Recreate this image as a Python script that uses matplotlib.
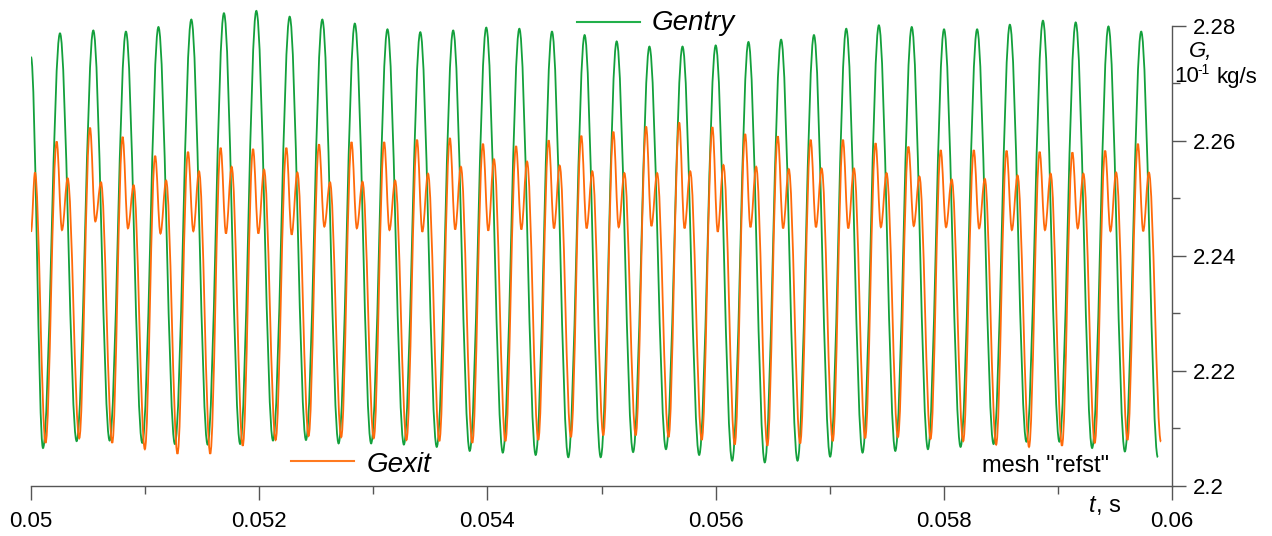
import matplotlib
matplotlib.use("Agg")
import matplotlib.pyplot as plt
from matplotlib.path import Path
from matplotlib.patches import PathPatch
from matplotlib.lines import Line2D

plt.rcParams['font.family'] = ['Liberation Sans', 'DejaVu Sans']

# ---- data ----
# Gentry: start point, then alternating troughs / peaks
gentry_start = (0.050000, 2.2746)
gentry_peak_t = [0.050254, 0.050546, 0.050832, 0.051117, 0.051405, 0.051691, 0.051975,
                 0.052267, 0.052553, 0.052838, 0.053124, 0.053412, 0.053700, 0.053990,
                 0.054280, 0.054566, 0.054852, 0.055133, 0.055420, 0.055710, 0.056001,
                 0.056288, 0.056574, 0.056862, 0.057145, 0.057431, 0.057719, 0.058002,
                 0.058292, 0.058579, 0.058869, 0.059156, 0.059443, 0.059730]
gentry_peak_v = [2.2787, 2.2792, 2.2790, 2.2798, 2.2811, 2.2822, 2.2826, 2.2816, 2.2811,
                 2.2804, 2.2794, 2.2789, 2.2792, 2.2797, 2.2795, 2.2790, 2.2784, 2.2773,
                 2.2764, 2.2764, 2.2766, 2.2772, 2.2776, 2.2784, 2.2795, 2.2801, 2.2798,
                 2.2794, 2.2794, 2.2802, 2.2809, 2.2806, 2.2799, 2.2790]
gentry_trough_t = [0.050105, 0.050400, 0.050689, 0.050975, 0.051261, 0.051548, 0.051833,
                   0.052121, 0.052410, 0.052696, 0.052981, 0.053268, 0.053556, 0.053845,
                   0.054135, 0.054423, 0.054709, 0.054993, 0.055277, 0.055565, 0.055856,
                   0.056145, 0.056431, 0.056718, 0.057004, 0.057288, 0.057575, 0.057861,
                   0.058147, 0.058436, 0.058724, 0.059013, 0.059300, 0.059587, 0.059876]
gentry_trough_v = [2.2066, 2.2078, 2.2079, 2.2075, 2.2073, 2.2072, 2.2073, 2.2079, 2.2080,
                   2.2074, 2.2074, 2.2072, 2.2068, 2.2061, 2.2058, 2.2054, 2.2050, 2.2050,
                   2.2059, 2.2064, 2.2054, 2.2044, 2.2041, 2.2044, 2.2051, 2.2058, 2.2061,
                   2.2064, 2.2068, 2.2073, 2.2077, 2.2077, 2.2066, 2.2060, 2.2050]

# Gexit: per cycle trough -> main peak -> dip -> second bump (times as lag vs Gentry)
gexit_start = [(0.050000, 2.2442), (0.050035, 2.2545)]
gexit_end = (0.059903, 2.2077)
lag_trough = 0.0000228
lag_main = -0.0000289
lag_dip = 0.0000175
lag_bump = 0.0000675
gexit_trough_v = [2.2075, 2.2083, 2.2075, 2.2064, 2.2056, 2.2056, 2.2070, 2.2080, 2.2087,
                  2.2085, 2.2083, 2.2080, 2.2078, 2.2075, 2.2078, 2.2080, 2.2085, 2.2088,
                  2.2088, 2.2085, 2.2080, 2.2072, 2.2070, 2.2074, 2.2078, 2.2083, 2.2085,
                  2.2082, 2.2078, 2.2072, 2.2068, 2.2070, 2.2075, 2.2080]
gexit_main_v = [2.2599, 2.2623, 2.2607, 2.2574, 2.2581, 2.2588, 2.2586, 2.2588, 2.2594,
                2.2598, 2.2598, 2.2602, 2.2605, 2.2595, 2.2591, 2.2601, 2.2609, 2.2616,
                2.2625, 2.2632, 2.2624, 2.2612, 2.2608, 2.2602, 2.2602, 2.2596, 2.2590,
                2.2584, 2.2584, 2.2583, 2.2581, 2.2580, 2.2583, 2.2595]
gexit_dip_v = [2.2445, 2.2460, 2.2448, 2.2439, 2.2443, 2.2439, 2.2439, 2.2437, 2.2451,
               2.2448, 2.2445, 2.2442, 2.2446, 2.2444, 2.2446, 2.2448, 2.2448, 2.2450,
               2.2452, 2.2448, 2.2442, 2.2450, 2.2448, 2.2450, 2.2448, 2.2450, 2.2452,
               2.2450, 2.2448, 2.2445, 2.2445, 2.2448, 2.2443, 2.2443]
gexit_bump_v = [2.2535, 2.2528, 2.2523, 2.2531, 2.2547, 2.2555, 2.2550, 2.2545, 2.2528,
                2.2529, 2.2531, 2.2543, 2.2555, 2.2568, 2.2564, 2.2557, 2.2547, 2.2544,
                2.2544, 2.2547, 2.2558, 2.2555, 2.2551, 2.2552, 2.2552, 2.2544, 2.2538,
                2.2533, 2.2534, 2.2540, 2.2543, 2.2543, 2.2545, 2.2545]

x_ticks = [0.05, 0.052, 0.054, 0.056, 0.058, 0.06]
x_labels = ['0.05', '0.052', '0.054', '0.056', '0.058', '0.06']
y_ticks = [2.2, 2.22, 2.24, 2.26, 2.28]
y_labels = ['2.2', '2.22', '2.24', '2.26', '2.28']

GREEN = '#13a03c'
ORANGE = '#ff6a0a'


def smooth_path(pts, k=0.36):
    # cubic segments with flat tangents at every turning point
    verts = [pts[0]]
    codes = [Path.MOVETO]
    for (t0, v0), (t1, v1) in zip(pts[:-1], pts[1:]):
        dt = t1 - t0
        verts += [(t0 + k * dt, v0), (t1 - k * dt, v1), (t1, v1)]
        codes += [Path.CURVE4] * 3
    return Path(verts, codes)


# build point sequences
gentry_pts = [gentry_start]
for i in range(len(gentry_peak_t)):
    gentry_pts.append((gentry_trough_t[i], gentry_trough_v[i]))
    gentry_pts.append((gentry_peak_t[i], gentry_peak_v[i]))
gentry_pts.append((gentry_trough_t[-1], gentry_trough_v[-1]))

gexit_pts = list(gexit_start)
for i in range(len(gentry_peak_t)):
    tp = gentry_peak_t[i]
    gexit_pts.append((gentry_trough_t[i] + lag_trough, gexit_trough_v[i]))
    gexit_pts.append((tp + lag_main, gexit_main_v[i]))
    gexit_pts.append((tp + lag_dip, gexit_dip_v[i]))
    gexit_pts.append((tp + lag_bump, gexit_bump_v[i]))
gexit_pts.append(gexit_end)

W, H = 1272, 536
fig = plt.figure(figsize=(W / 100, H / 100), dpi=100)
ax = fig.add_axes([31 / W, 50 / H, 1141 / W, 486 / H])

ax.add_patch(PathPatch(smooth_path(gentry_pts), facecolor='none', edgecolor=GREEN, lw=1.3, zorder=2))
ax.add_patch(PathPatch(smooth_path(gexit_pts), facecolor='none', edgecolor=ORANGE, lw=1.3, zorder=3))

ax.set_xlim(0.05, 0.06)
ax.set_ylim(2.2, 2.2845)

for s in ['left', 'top']:
    ax.spines[s].set_visible(False)
ax.spines['right'].set_bounds(2.2, 2.28)
ax.spines['bottom'].set_bounds(0.05, 0.06)
for s in ['right', 'bottom']:
    ax.spines[s].set_color('#555555')
    ax.spines[s].set_linewidth(1.0)

ax.yaxis.tick_right()
ax.set_xticks(x_ticks)
ax.set_xticklabels(x_labels)
ax.set_xticks([0.051, 0.053, 0.055, 0.057, 0.059], minor=True)
ax.set_yticks(y_ticks)
ax.set_yticklabels(y_labels)
ax.set_yticks([2.21, 2.23, 2.25, 2.27], minor=True)
ax.tick_params(which='major', length=10, width=1.0, color='#555555', labelsize=16)
ax.tick_params(which='minor', length=6, width=1.0, color='#555555')
ax.tick_params(axis='x', which='major', pad=8)
ax.tick_params(axis='y', which='major', pad=5)
ax.tick_params(axis='y', which='both', left=False, right=True)

# legend entries
fig.add_artist(Line2D([577 / W, 640 / W], [1 - 22 / H, 1 - 22 / H], color='#22b04b', lw=1.5))
fig.text(652 / W, 1 - 23 / H, 'Gentry', fontsize=20, style='italic', va='center')
fig.add_artist(Line2D([291 / W, 354 / W], [1 - 461 / H, 1 - 461 / H], color='#ff7a20', lw=1.5))
fig.text(367 / W, 1 - 465 / H, 'Gexit', fontsize=20, style='italic', va='center')

fig.text(982 / W, 1 - 466 / H, 'mesh "refst"', fontsize=17, va='center')

# axis titles
fig.text(1189 / W, 1 - 51 / H, 'G,', fontsize=16, style='italic', va='center')
fig.text(1174 / W, 1 - 77 / H, '10', fontsize=16, va='center')
fig.text(1197 / W, 1 - 70 / H, '-1', fontsize=10, va='center')
fig.text(1216 / W, 1 - 77 / H, 'kg/s', fontsize=16, va='center')
fig.text(1089 / W, 1 - 506 / H, 't', fontsize=17, style='italic', va='center')
fig.text(1096 / W, 1 - 506 / H, ', s', fontsize=17, va='center')

fig.savefig('out.png', dpi=100)
